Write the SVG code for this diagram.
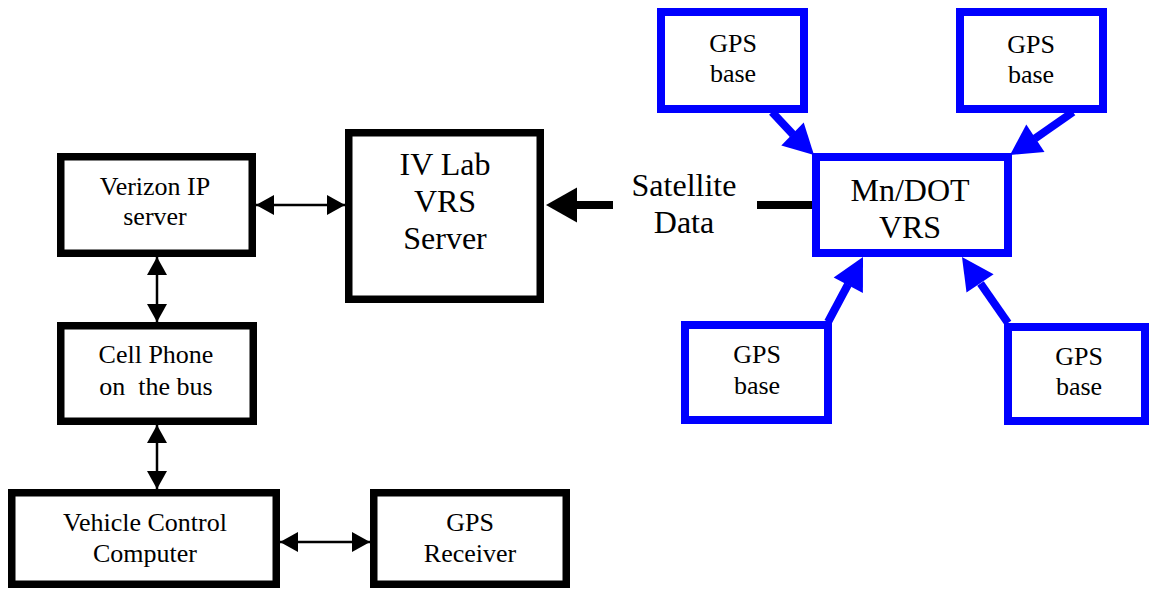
<svg xmlns="http://www.w3.org/2000/svg" width="1149" height="590" viewBox="0 0 1149 590">
<defs>
<style>
.bk{fill:#fff;stroke:#000;stroke-width:7.5}
.bl{fill:#fff;stroke:#0000ff;stroke-width:8}
.t26{font-family:"Liberation Serif","Times New Roman",serif;font-size:26px;fill:#000;text-anchor:middle}
.t32{font-family:"Liberation Serif","Times New Roman",serif;font-size:32px;fill:#000;text-anchor:middle}
.dbl{stroke:#000;stroke-width:2.5;fill:none;marker-start:url(#ah);marker-end:url(#ah)}
.bline{stroke:#0000ff;stroke-width:8;fill:none}
.bhead{fill:#0000ff}
</style>
<marker id="ah" viewBox="0 0 18 20" refX="18" refY="10" markerWidth="18" markerHeight="20" markerUnits="userSpaceOnUse" orient="auto-start-reverse">
<path d="M0,0 L18,10 L0,20 Z" fill="#000"/>
</marker>
</defs>
<rect width="1149" height="590" fill="#fff"/>
<g id="connectors">
<line class="dbl" x1="256" y1="205" x2="345" y2="205"/>
<line class="dbl" x1="157" y1="257" x2="157" y2="322"/>
<line class="dbl" x1="157" y1="425" x2="157" y2="489"/>
<line class="dbl" x1="280" y1="542" x2="370" y2="542"/>
<line x1="757" y1="205" x2="816" y2="205" stroke="#000" stroke-width="8"/>
<line x1="576" y1="205" x2="613" y2="205" stroke="#000" stroke-width="8"/>
<polygon points="546,205 577,187.5 577,222.5" fill="#000"/>
<line class="bline" x1="772" y1="112" x2="793" y2="134.5"/>
<polygon class="bhead" points="814,155 781.3,145.5 803.7,122.5"/>
<line class="bline" x1="1073" y1="112" x2="1035" y2="138.5"/>
<polygon class="bhead" points="1010,155 1026.3,124.5 1044.5,152"/>
<line class="bline" x1="828" y1="322" x2="848" y2="284.5"/>
<polygon class="bhead" points="863,257 833.7,277.6 862.9,293"/>
<line class="bline" x1="1008" y1="323" x2="980.5" y2="283.5"/>
<polygon class="bhead" points="962,257 993.6,274.2 966.5,292.6"/>
</g>
<g id="verizon">
<rect class="bk" x="60.75" y="156.75" width="191.5" height="96.5"/>
<text class="t26" x="155" y="195">Verizon IP</text>
<text class="t26" x="155" y="225">server</text>
</g>
<g id="ivlab">
<rect class="bk" x="348.75" y="132.75" width="191.5" height="166.5"/>
<text class="t32" x="445" y="175">IV Lab</text>
<text class="t32" x="445" y="212">VRS</text>
<text class="t32" x="445" y="249">Server</text>
</g>
<g id="cellphone">
<rect class="bk" x="60.75" y="325.75" width="192.5" height="95.5"/>
<text class="t26" x="156" y="363">Cell Phone</text>
<text class="t26" x="156" y="395" xml:space="preserve">on  the bus</text>
</g>
<g id="vehicle">
<rect class="bk" x="11.75" y="492.75" width="264.5" height="91.5"/>
<text class="t26" x="145" y="531">Vehicle Control</text>
<text class="t26" x="145" y="562">Computer</text>
</g>
<g id="gpsreceiver">
<rect class="bk" x="373.75" y="492.75" width="192.5" height="91.5"/>
<text class="t26" x="470" y="531">GPS</text>
<text class="t26" x="470" y="562">Receiver</text>
</g>
<g id="satellite-label">
<text class="t32" x="684" y="196">Satellite</text>
<text class="t32" x="684" y="233">Data</text>
</g>
<g id="mndot">
<rect class="bl" x="816" y="157" width="192" height="96"/>
<text class="t32" x="910" y="201">Mn/DOT</text>
<text class="t32" x="910" y="238">VRS</text>
</g>
<g id="gps-tl">
<rect class="bl" x="661" y="12" width="143" height="97"/>
<text class="t26" x="733" y="52">GPS</text>
<text class="t26" x="733" y="82">base</text>
</g>
<g id="gps-tr">
<rect class="bl" x="960" y="12" width="143" height="97"/>
<text class="t26" x="1031" y="53">GPS</text>
<text class="t26" x="1031" y="83">base</text>
</g>
<g id="gps-bl">
<rect class="bl" x="685" y="325" width="143" height="95"/>
<text class="t26" x="757" y="363">GPS</text>
<text class="t26" x="757" y="394">base</text>
</g>
<g id="gps-br">
<rect class="bl" x="1008" y="327" width="137" height="94"/>
<text class="t26" x="1079" y="365">GPS</text>
<text class="t26" x="1079" y="395">base</text>
</g>
</svg>
